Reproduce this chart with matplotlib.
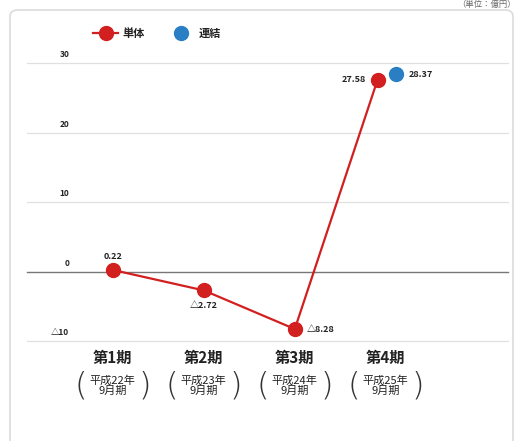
import matplotlib.pyplot as plt
from matplotlib.patches import FancyBboxPatch

plt.rcParams['font.family'] = ['Noto Sans CJK JP', 'DejaVu Sans']

periods = ['第1期', '第2期', '第3期', '第4期']
sub_labels = ['平成22年\n9月期', '平成23年\n9月期', '平成24年\n9月期', '平成25年\n9月期']
single = [0.22, -2.72, -8.28, 27.58]
consolidated = 28.37
yticks = [30, 20, 10, 0, -10]


def fmt(v):
    s = '%.2f' % abs(v)
    return '△' + s if v < 0 else s


W, H = 518, 441
fig = plt.figure(figsize=(W / 100, H / 100), dpi=100)

# card background
card = FancyBboxPatch((10 / W, -30 / H), 503 / W, (H - 10 + 30) / H,
                      boxstyle='round,pad=0,rounding_size=0.015',
                      transform=fig.transFigure, facecolor='white',
                      edgecolor='#dcdcdc', linewidth=1.2, zorder=-10)
fig.patches.append(card)
fig.text(516 / W, 1 - 4 / H, '（単位：億円）', fontsize=6, color='#666666',
         ha='right', va='center')

ax = fig.add_axes([27 / W, 100 / H, 481 / W, 278 / H], zorder=2)
ax.set_xlim(-0.944, 4.344)
ax.set_ylim(-10, 30)
ax.axis('off')

for t in yticks:
    ax.axhline(t, color='#777777' if t == 0 else '#e0e0e0',
               lw=1.0 if t == 0 else 0.9, zorder=1, clip_on=False)
    lab = '△10' if t < 0 else str(t)
    ax.text(-0.48, t + 1.2, lab, fontsize=6, ha='right', va='center',
            color='#222222', fontweight='bold')

xs = [0, 1, 2, 2.91]
red = '#d21f1f'
blue = '#2a7fc4'
ax.plot(xs, single, color=red, lw=1.6, marker='o', markersize=10, zorder=3)
ax.plot([3.11], [consolidated], color=blue, marker='o', markersize=10,
        linestyle='none', zorder=3)

lbl = dict(fontsize=6.5, color='#222222', fontweight='bold', zorder=4)
ax.text(xs[0], single[0] + 1.9, fmt(single[0]), ha='center', va='center', **lbl)
ax.text(xs[1], single[1] - 2.2, fmt(single[1]), ha='center', va='center', **lbl)
ax.text(xs[2] + 0.13, single[2], fmt(single[2]), ha='left', va='center', **lbl)
ax.text(xs[3] - 0.13, single[3], fmt(single[3]), ha='right', va='center', **lbl)
ax.text(3.25, consolidated, fmt(consolidated), ha='left', va='center', **lbl)

# category labels
for i, (p, s) in enumerate(zip(periods, sub_labels)):
    ax.text(i, -12.4, p, fontsize=11, ha='center', va='center',
            color='#222222', fontweight='bold', clip_on=False)
    ax.text(i, -16.4, s, fontsize=8, ha='center', va='center',
            color='#222222', linespacing=1.05, clip_on=False)
    for dx, ch in [(-0.35, '('), (0.35, ')')]:
        ax.text(i + dx, -16.4, ch, fontsize=23, ha='center', va='center',
                color='#333333', fontweight='light', clip_on=False,
                family='DejaVu Sans')

# legend
fig.lines.append(plt.Line2D([93 / W, 118 / W], [1 - 33 / H, 1 - 33 / H],
                            transform=fig.transFigure, color=red, lw=1.6,
                            marker='', zorder=5))
fig.lines.append(plt.Line2D([105.5 / W], [1 - 33 / H], transform=fig.transFigure,
                            color=red, marker='o', markersize=10))
fig.text(122 / W, 1 - 33 / H, '単体', fontsize=8, va='center', ha='left',
         fontweight='bold', color='#222222')
fig.lines.append(plt.Line2D([181 / W], [1 - 33 / H], transform=fig.transFigure,
                            color=blue, marker='o', markersize=10))
fig.text(199 / W, 1 - 33 / H, '連結', fontsize=8, va='center', ha='left',
         fontweight='bold', color='#222222')

fig.savefig('out.png', dpi=100)
